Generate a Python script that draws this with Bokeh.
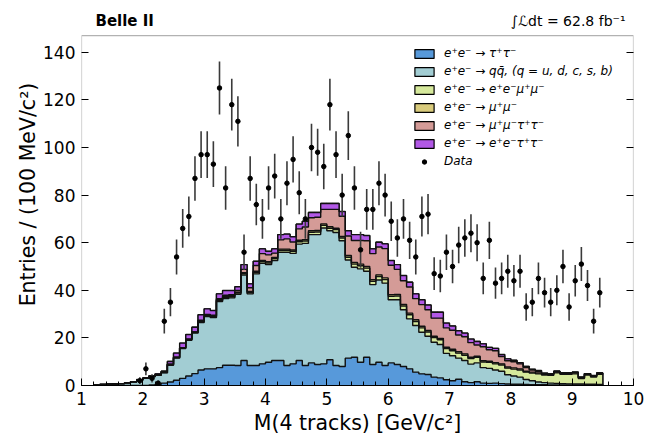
import numpy as np
from bokeh.plotting import figure
from bokeh.models import (Range1d, LinearAxis, SingleIntervalTicker, FixedTicker, Legend, LegendItem,
                          Label, BoxAnnotation)
from bokeh.embed import file_html
from bokeh.resources import INLINE

FONT = "DejaVu Sans"

# ---------------- data ----------------
hist_start = 1.2      # lower edge of first MC bin [GeV/c^2]
bin_width = 0.1       # 100 MeV bins

tautau = [0, 0, 0, 0, 0, 0, 0, 0, 0,
          0.2, 0.5, 1.0, 1.5, 2.2, 3.0, 4.0, 5.0, 6.5, 7.0, 7.0, 7.5, 8.5, 8.5, 8.4, 10.5, 8.4, 8.4, 9.1,
          9.8, 10.5, 10.5, 8.4, 9.1, 10.5, 8.4, 9.5, 8.8, 9.1, 10.8, 8.4, 8.0, 11.5, 11.9, 9.8, 11.9, 8.8,
          9.8, 8.4, 9.5, 8.8, 8.0, 7.0, 5.6, 4.9, 4.6, 3.5, 3.2, 2.4, 2.0, 2.6, 1.6, 1.2, 1.6, 1.0, 0.9,
          1.0, 0.8, 0.6, 0.5, 0.5, 0.4, 0.3, 0.3, 0.3,
          0.2, 0.2, 0.2, 0.2, 0.2, 0.2, 0.2, 0.2, 0.2]

qqbar = [0.3, 0.4, 0.5, 0.6, 0.8, 1.1, 1.6, 2.3, 3.0, 3.6, 3.8, 4.3, 7.0, 9.3, 12.5, 15.0, 17.0, 20.0,
         22.0, 21.5, 27.8, 28.0, 28.3, 29.9, 35.9, 30.1, 38.5, 42.2, 41.0, 42.0, 45.5, 47.6, 46.4, 48.9,
         51.3, 53.9, 54.6, 57.1, 54.2, 55.9, 52.8, 41.2, 37.8, 39.2, 36.1, 33.6, 34.5, 34.6, 26.5, 27.2,
         23.8, 21.0, 19.6, 17.5, 16.1, 14.7, 14.0, 11.1, 10.5, 8.9, 8.9, 7.8, 7.9, 6.5, 6.3, 5.5, 5.2,
         3.9, 3.5, 3.0, 2.1, 1.7, 1.2, 0.9, 0.8, 0.7, 0.6, 0.5, 0.4, 0.4, 0.3, 0.3, 0.2]

eemumu = [0, 0, 0, 0, 0, 0, 0, 0, 0, 0,
          0.1, 0.1, 0.2, 0.2, 0.2, 0.3, 0.3, 0.3, 0.3, 0.4, 0.4, 0.5, 0.5, 0.5, 0.6, 0.6, 0.6, 0.7, 0.7,
          0.8, 0.8, 0.8, 0.9, 1.0, 1.0, 1.0, 1.1, 1.1, 1.1, 1.2, 1.2, 1.2, 1.3, 1.3, 1.3, 1.4, 1.5, 1.5,
          1.5, 1.6, 1.6, 1.7, 1.7, 1.8, 1.8, 1.9, 2.0, 2.0, 2.1, 2.1, 2.2, 2.3, 2.3, 2.4, 2.5, 2.6, 2.6,
          2.8, 2.9, 3.0, 3.1, 3.2, 3.4, 3.2, 3.3, 4.4, 3.9, 4.0, 4.3, 2.3, 3.9, 3.1, 4.3]

mumu = [0, 0, 0, 0, 0, 0, 0, 0, 0, 0,
        0.1, 0.1, 0.2, 0.2, 0.2, 0.2, 0.2, 0.3, 0.3, 0.3, 0.3, 0.4, 0.4, 0.4, 0.4, 0.4, 0.5, 0.5, 0.5,
        0.5, 0.5, 0.5, 0.5,
        0.6, 0.6, 0.6, 0.6, 0.6, 0.6, 0.6, 0.6,
        0.7, 0.7, 0.7, 0.7, 0.7, 0.7, 0.7, 0.7, 0.7, 0.7, 0.7, 0.7, 0.7,
        0.6, 0.6, 0.6, 0.6, 0.6, 0.6, 0.6, 0.6,
        0.5, 0.5, 0.5, 0.5, 0.5, 0.5, 0.5, 0.5,
        0.4, 0.4, 0.4,
        0.3, 0.3, 0.4, 0.4, 0.4, 0.4, 0.3, 0.3, 0.3, 0.3]

mumutautau = [0, 0, 0, 0, 0, 0, 0, 0, 0, 0, 0, 0, 0, 0, 0, 0, 0,
              0.3, 0.3, 0.3, 0.5, 0.5, 0.5, 0.7, 1.4, 1.6, 2.4, 2.9, 2.9, 1.8, 3.9, 4.3, 3.4, 4.8, 5.3,
              5.5, 5.6, 6.1, 7.3, 7.9, 8.5, 8.2, 9.2, 9.9, 10.8, 10.9, 11.7, 12.3, 12.3, 10.5, 9.9, 11.0,
              8.9, 9.1, 8.7, 7.6, 8.5, 8.1, 8.0, 7.0, 7.2, 6.1, 4.7, 5.9, 4.8, 5.0, 3.1, 2.6, 2.6, 2.1,
              1.5, 0.9, 0.7, 0.3, 0.3,
              0.2, 0.2, 0.2, 0.2, 0.2, 0.2, 0.2, 0.2]

eetautau = [0, 0, 0, 0, 0, 0, 0,
            0.2, 0.2, 0.3, 0.4, 0.5, 1.2, 1.7, 1.9, 1.9, 2.0, 2.3, 2.3, 2.0, 2.0, 2.0, 1.7, 1.6, 2.0,
            1.6, 1.8, 2.0, 1.5, 1.8, 2.2, 2.0, 2.2, 2.0, 2.4, 2.2, 2.0, 2.5, 2.5, 2.5, 2.0, 2.2, 2.5,
            2.5, 2.2, 2.0, 2.0, 2.0, 2.0, 2.0, 2.2, 2.0, 2.0, 2.0, 2.0, 2.5, 2.5, 2.0, 1.8, 1.8, 1.5,
            1.5, 1.5, 1.2, 1.0, 1.0, 0.8, 0.8, 0.6, 0.5, 0.5, 0.3, 0.3, 0.2,
            0.1, 0.1, 0.1, 0.1, 0.1, 0.1, 0.1, 0.1, 0.1]

data_first_center = 1.95
data_counts = [2, 7, 3, 1, 27, 35, 54, 66, 71, 87, 97, 97, 93, 125, 83, 118, 111, 56, 87, 76, 70, 83,
               88, 70, 85, 95, 81, 70, 100, 98, 92, 118, 97, 80, 105, 83, 57, 74, 74, 85, 80, 69, 62,
               70, 61, 54, 71, 72, 47, 46, 56, 50, 59, 62, 64, 60, 45, 61, 43, 45, 48, 44, 48, 33, 35,
               45, 39, 35, 40, 50, 33, 44, 51, 42, 27, 39]

labels = ["e⁺e⁻ → τ⁺τ⁻",
          "e⁺e⁻ → qq̄, (q = u, d, c, s, b)",
          "e⁺e⁻ → e⁺e⁻μ⁺μ⁻",
          "e⁺e⁻ → μ⁺μ⁻",
          "e⁺e⁻ → μ⁺μ⁻τ⁺τ⁻",
          "e⁺e⁻ → e⁺e⁻τ⁺τ⁻"]
series = [tautau, qqbar, eemumu, mumu, mumutautau, eetautau]
colors = ["#5799da", "#a2cdd3", "#d6e99c", "#d9cb7c", "#d49b97", "#b258e6"]

x_min, x_max = 1, 10
y_min, y_max = 0, 147          # visible axes box
x_tick_values = [1, 2, 3, 4, 5, 6, 7, 8, 9, 10]
y_tick_values = [0, 20, 40, 60, 80, 100, 120, 140]
belle_text = "Belle II"
lumi_text = "∫ℒdt = 62.8 fb⁻¹"

# ---------------- figure ----------------
# the plotting frame is taller than the drawn axes box so the header texts stay inside it
p = figure(width=660, height=438, output_backend="svg", toolbar_location=None,
           x_range=Range1d(x_min, x_max), y_range=Range1d(y_min, 160.5))
p.min_border_left = 81
p.min_border_right = 27
p.min_border_top = 3
p.min_border_bottom = 53
p.xgrid.visible = False
p.ygrid.visible = False
p.outline_line_color = None
p.background_fill_color = "white"
p.border_fill_color = "white"

n = len(tautau)
edges = hist_start + bin_width * np.arange(n + 1)
lower = np.zeros(n)
bounds = []
for vals in series:
    upper = lower + np.asarray(vals, dtype=float)
    bounds.append((lower, upper))
    lower = upper

# bin quads (used for the legend swatches; hidden underneath the step fills)
quad_rs = []
for (lo, up), col in zip(bounds, colors):
    quad_rs.append(p.quad(left=edges[:-1], right=edges[1:], bottom=lo, top=up,
                          fill_color=col, line_color="black", line_width=1.2))
for (lo, up), col in zip(bounds, colors):
    p.varea_step(x=edges, y1=np.append(lo, lo[-1]), y2=np.append(up, up[-1]),
                 step_mode="after", fill_color=col)
for (lo, up), col in zip(bounds, colors):
    p.step(x=edges, y=np.append(up, up[-1]), mode="after", line_color="#111111", line_width=1.4)
total = bounds[-1][1]
p.segment(x0=[edges[-1]], y0=[0], x1=[edges[-1]], y1=[total[-1]], line_color="#111111", line_width=1.4)

counts = np.asarray(data_counts, dtype=float)
data_x = data_first_center + bin_width * np.arange(len(counts))
err = np.sqrt(counts)
p.segment(x0=data_x, y0=counts - err, x1=data_x, y1=counts + err, line_color="#3a3a3a", line_width=1.6)
data_r = p.scatter(x=data_x, y=counts, size=4.5, color="black")

# axes box
p.add_layout(BoxAnnotation(left=x_min, right=x_max, bottom=y_min, top=y_max, fill_color=None,
                           line_color="black", line_width=1.2, level="overlay"))

items = [LegendItem(label=lab, renderers=[r]) for lab, r in zip(labels, quad_rs)]
items.append(LegendItem(label="Data", renderers=[data_r]))
legend = Legend(items=items, location=(331, 217), glyph_width=24, glyph_height=11, label_height=14,
                spacing=4, padding=4, label_standoff=8, label_text_font=FONT,
                label_text_font_style="italic", label_text_color="black",
                label_text_font_size="12px", border_line_color=None, background_fill_alpha=0, margin=0)
p.add_layout(legend)

def style_axis(ax, labels_on=True):
    ax.axis_line_color = None
    ax.major_tick_line_color = "black"
    ax.minor_tick_line_color = "black"
    ax.major_tick_in = 7
    ax.major_tick_out = 0
    ax.minor_tick_in = 4
    ax.minor_tick_out = 0
    ax.major_label_text_font = FONT
    ax.major_label_text_font_size = "17px" if labels_on else "0px"
    ax.major_label_text_color = "black" if labels_on else None
    ax.axis_label_text_font = FONT
    ax.axis_label_text_font_size = "20.5px"
    ax.axis_label_text_font_style = "normal"
    ax.axis_label_text_color = "black"
    ax.major_label_standoff = 6

p.xaxis.ticker = FixedTicker(ticks=x_tick_values,
                             minor_ticks=list(np.round(np.arange(x_min, x_max + 1e-9, 0.2), 2)))
p.yaxis.ticker = FixedTicker(ticks=y_tick_values)
style_axis(p.xaxis[0])
style_axis(p.yaxis[0])
p.xaxis.axis_line_color = "black"
p.xaxis.axis_line_width = 1.2
p.yaxis.minor_tick_line_color = None
p.xaxis.axis_label = "M(4 tracks) [GeV/c²]"
p.yaxis.axis_label = "Entries / (100 MeV/c²)"
p.xaxis.axis_label_standoff = 3
p.yaxis.axis_label_standoff = 0

rax = LinearAxis(ticker=FixedTicker(ticks=y_tick_values))
style_axis(rax, labels_on=False)
rax.minor_tick_line_color = None
p.add_layout(rax, "right")

p.add_layout(Label(x=1.228, y=153, text=belle_text, text_font=FONT, text_font_style="bold",
                   text_font_size="15px", text_color="black", text_baseline="alphabetic"))
p.add_layout(Label(x=9.87, y=153, text=lumi_text, text_font=FONT, text_font_size="14px",
                   text_color="black", text_align="right", text_baseline="alphabetic"))

open("out.html", "w").write(file_html(p, INLINE))
